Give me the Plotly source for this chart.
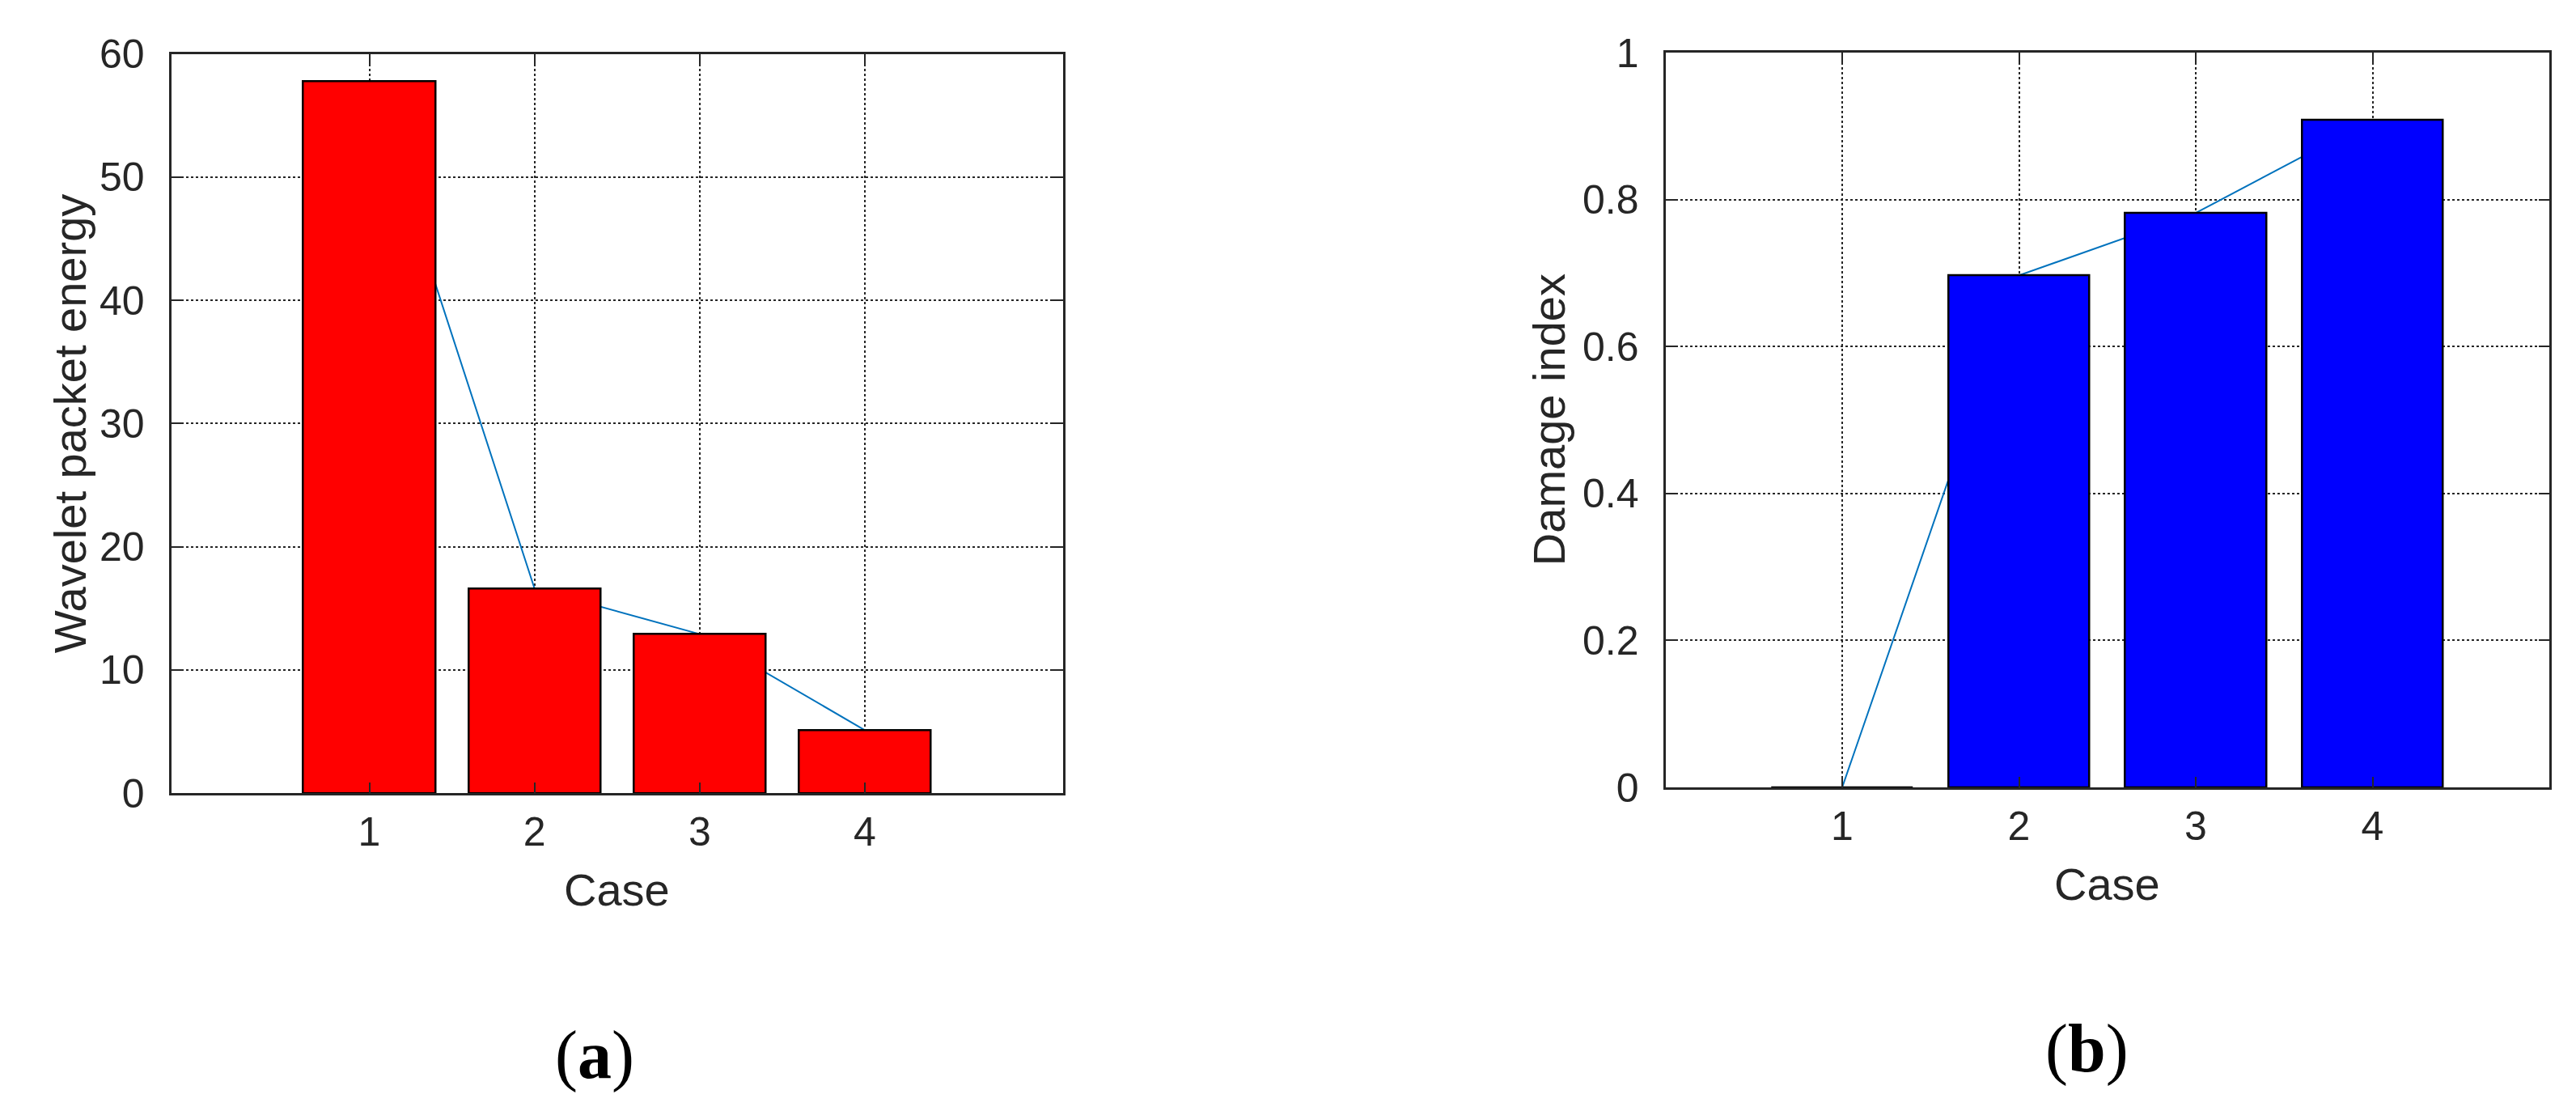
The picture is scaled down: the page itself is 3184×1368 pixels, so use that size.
import plotly.graph_objects as go

# data
cases = [1, 2, 3, 4]
energy = [57.8, 16.6, 12.9, 5.1]
damage = [0.0, 0.697, 0.782, 0.909]

energy_ticks = [0, 10, 20, 30, 40, 50, 60]
damage_ticks = [0, 0.2, 0.4, 0.6, 0.8, 1]
damage_ticktext = ["0", "0.2", "0.4", "0.6", "0.8", "1"]

W, H = 3184, 1368
INK = "#262626"
SANS = "Liberation Sans"
SERIF = "Liberation Serif"

# panel boxes in pixels (left, right, top, bottom)
box_a = (203.5, 1306, 58.5, 972)
box_b = (2050.5, 3143, 57.3, 965)


def dom_x(b):
    return [b[0] / W, b[1] / W]


def dom_y(b):
    return [1 - b[3] / H, 1 - b[2] / H]


fig = go.Figure()

# connecting lines go on the base axes, bars on an overlay so they hide the line
fig.add_trace(go.Scatter(x=cases, y=energy, mode="lines", xaxis="x", yaxis="y",
                         line=dict(color="#0072BD", width=2), showlegend=False))
fig.add_trace(go.Bar(x=cases, y=energy, xaxis="x3", yaxis="y3", width=0.8,
                     marker=dict(color="#FF0000", line=dict(color="black", width=2.5)),
                     showlegend=False))

fig.add_trace(go.Scatter(x=cases, y=damage, mode="lines", xaxis="x2", yaxis="y2",
                         line=dict(color="#0072BD", width=2), showlegend=False))
fig.add_trace(go.Bar(x=cases, y=damage, xaxis="x4", yaxis="y4", width=0.8,
                     marker=dict(color="#0000FF", line=dict(color="black", width=2.5)),
                     showlegend=False))

axis_style = dict(showline=True, linecolor=INK, linewidth=3, mirror="allticks",
                  ticks="inside", ticklen=13, tickwidth=2, tickcolor=INK,
                  showgrid=True, gridcolor=INK, gridwidth=1.5, griddash="dot",
                  zeroline=False, automargin=False,
                  tickfont=dict(family=SANS, size=50, color=INK))

xr_a = [-0.2, 5.2]
xr_b = [0, 5]
yr_a = [0, 60]
yr_b = [0, 1]

fig.update_layout(
    width=W, height=H,
    margin=dict(l=0, r=0, t=0, b=0),
    paper_bgcolor="white", plot_bgcolor="white",
    showlegend=False, bargap=0,
    xaxis=dict(domain=dom_x(box_a), range=xr_a, tickvals=cases, anchor="y",
               ticklabelstandoff=2, **axis_style),
    yaxis=dict(domain=dom_y(box_a), range=yr_a, tickvals=energy_ticks, anchor="x",
               ticklabelstandoff=20, **axis_style),
    xaxis2=dict(domain=dom_x(box_b), range=xr_b, tickvals=cases, anchor="y2",
                ticklabelstandoff=2, **axis_style),
    yaxis2=dict(domain=dom_y(box_b), range=yr_b, tickvals=damage_ticks,
                ticktext=damage_ticktext, anchor="x2", ticklabelstandoff=20, **axis_style),
    xaxis3=dict(overlaying="x", range=xr_a, visible=False, anchor="y3"),
    yaxis3=dict(overlaying="y", range=yr_a, visible=False, anchor="x3"),
    xaxis4=dict(overlaying="x2", range=xr_b, visible=False, anchor="y4"),
    yaxis4=dict(overlaying="y2", range=yr_b, visible=False, anchor="x4"),
)

title_font = dict(family=SANS, size=56, color=INK)
labels = [
    ("Case", (box_a[0] + box_a[1]) / 2, box_a[3] + 119, 0),
    ("Case", (box_b[0] + box_b[1]) / 2, box_b[3] + 119, 0),
    ("Wavelet packet energy", 78, (box_a[2] + box_a[3]) / 2, -90),
    ("Damage index", 1906, (box_b[2] + box_b[3]) / 2, -90),
]
for text, px, py, ang in labels:
    fig.add_annotation(text=text, x=px / W, y=1 - py / H, xref="paper", yref="paper",
                       showarrow=False, textangle=ang, font=title_font,
                       xanchor="center", yanchor="middle")

for text, px, py in [("(<b>a</b>)", 727, 1296), ("(<b>b</b>)", 2571, 1288)]:
    fig.add_annotation(text=text, x=px / W, y=1 - py / H, xref="paper", yref="paper",
                       showarrow=False, font=dict(family=SERIF, size=84, color="black"),
                       xanchor="center", yanchor="middle")

fig.write_html("out.html")
